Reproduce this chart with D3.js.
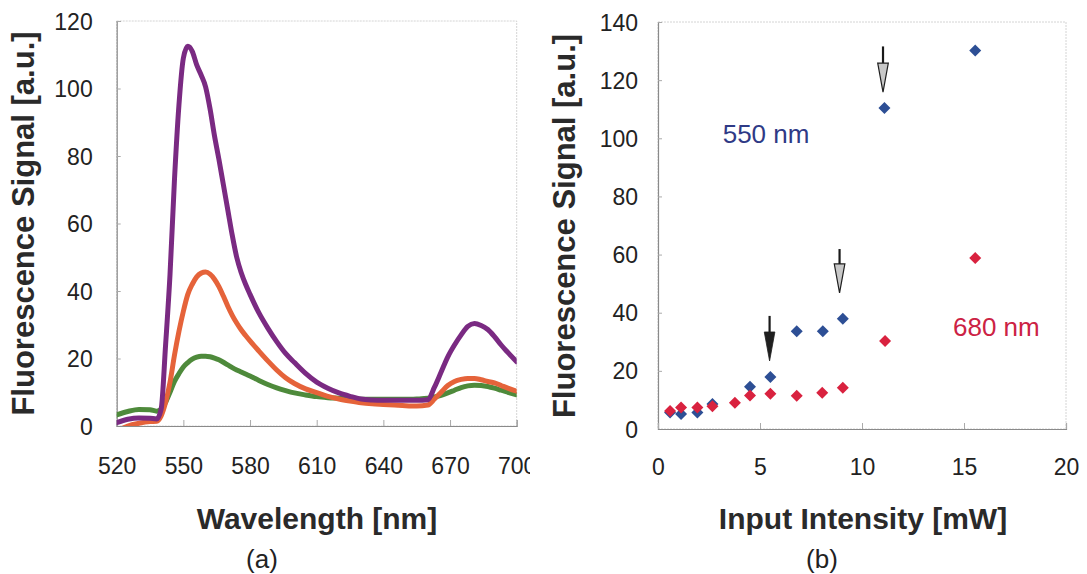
<!DOCTYPE html>
<html><head><meta charset="utf-8">
<script src="https://cdn.jsdelivr.net/npm/d3@7"></script>
<style>
html,body{margin:0;padding:0;background:#fff;}
svg{display:block;}
text{font-family:"Liberation Sans", Arial, sans-serif;}
</style></head>
<body>
<svg id="chart" width="1087" height="574"></svg>
<script>
// ---------- DATA ----------
const wavelengths = [520,525,530,535,538,540,542,544,546,548,550,552,554,556,558,560,562,564,566,568,570,572,574,576,578,580,584,588,592,596,600,605,610,615,620,625,630,635,640,645,650,655,660,663,666,669,672,675,678,681,684,687,690,693,696,700];
const purpleSignal = [1.0,2.0,2.4,2.3,2.1,5,24,45,73,95,109,112.5,111,107,104,100.5,94,86,79,71.5,64,56.5,50,45.5,42,39,33.5,29,25,21.5,18.8,15.6,13,11.2,9.8,8.8,8.0,7.7,7.6,7.6,7.6,7.6,7.8,11.5,16,20.5,24,27,29.5,30.4,29.8,28.6,26.5,24,21.8,19];
const orangeSignal = [-1.5,0,0.8,1.3,1.4,3,7,13,21,28,34,39,42,44.2,45.3,45.6,45,43.5,41.3,38.5,35.5,32.8,30.5,28.5,26.8,25.2,22.2,19.3,16.6,14.3,12.6,11,9.9,8.8,8.0,7.4,6.9,6.6,6.4,6.2,6.0,5.9,6.2,8.0,10,12,13.2,13.8,14.1,14.1,13.7,13.2,12.8,12,11.2,10.3];
const greenSignal = [3.3,4.3,4.9,4.8,4.4,5.0,7,10,13.2,15.5,17.5,18.8,19.8,20.4,20.7,20.7,20.5,20.1,19.6,18.9,18.1,17.3,16.6,16.0,15.4,14.8,13.5,12.3,11.3,10.5,9.8,9.2,8.7,8.4,8.2,8.0,7.9,7.9,7.9,7.9,7.9,8.0,8.2,8.6,9.1,9.8,10.6,11.4,11.9,12.1,12.0,11.7,11.2,10.6,10.0,9.2];

const wlTicks = [520,550,580,610,640,670,700];
const sigTicksA = [0,20,40,60,80,100,120];

const powerBlue = [0.59,1.13,1.93,2.67,4.51,5.51,6.80,8.08,9.06,11.1,15.55];
const signalBlue = [5.7,5.2,5.7,8.6,14.5,17.9,33.6,33.6,37.9,110.4,130.2];
const powerRed = [0.59,1.13,1.93,2.67,3.77,4.51,5.51,6.80,8.05,9.06,11.13,15.55];
const signalRed = [6.2,7.4,7.4,7.8,9.0,11.5,12.1,11.4,12.5,14.2,30.3,58.8];

const powerTicks = [0,5,10,15,20];
const sigTicksB = [0,20,40,60,80,100,120,140];

// arrows: x position, top of shaft, tip (data units)
const arrowX = [5.47, 8.9, 11.03];
const arrowTop = [38.9, 61.9, 131.6];
const arrowTip = [23.4, 46.8, 115.9];
const arrowFilled = [true, false, false];

// ---------- DRAW ----------
const svg = d3.select("#chart");
const FONT = "Liberation Sans, Arial, sans-serif";

// ===== Panel (a) =====
const xA = d3.scaleLinear().domain([520,700]).range([116.7,516.7]);
const yA = d3.scaleLinear().domain([0,120]).range([426,21]);

svg.append("defs").append("clipPath").attr("id","clipA")
  .append("rect").attr("x",xA(520)).attr("y",yA(120)).attr("width",xA(700)-xA(520)).attr("height",yA(0)-yA(120));
svg.select("defs").append("clipPath").attr("id","clipLeftPanel")
  .append("rect").attr("x",0).attr("y",0).attr("width",530).attr("height",574);

const gA = svg.append("g").attr("clip-path","url(#clipLeftPanel)");

// frame
gA.append("rect").attr("x",xA(520)).attr("y",yA(120)).attr("width",xA(700)-xA(520)).attr("height",yA(0)-yA(120))
  .attr("fill","none").attr("stroke","#d4d4d4").attr("stroke-width",1).attr("stroke-dasharray","2,1");

const axLA = gA.append("g").attr("transform",`translate(${xA(520)},0)`)
  .call(d3.axisLeft(yA).tickValues(sigTicksA).tickSize(-4).tickPadding(24));
const axBA = gA.append("g").attr("transform",`translate(0,${yA(0)})`)
  .call(d3.axisBottom(xA).tickValues(wlTicks).tickSize(-6).tickPadding(32));
[axLA, axBA].forEach(ax=>{
  ax.select(".domain").attr("stroke","#8a8a8a").attr("stroke-width",1.2);
  ax.selectAll(".tick line").attr("stroke","#aaa");
  ax.selectAll(".tick text").attr("font-family",FONT).attr("font-size",23).attr("fill","#222");
});
axLA.selectAll(".tick text").attr("dy","0.35em");

const lineA = (vals)=> d3.line().curve(d3.curveMonotoneX)
  .x((d,i)=>xA(wavelengths[i])).y(d=>yA(d))(vals);
const curves = gA.append("g").attr("clip-path","url(#clipA)");
[[greenSignal,"#4e8a3b"],[orangeSignal,"#e5633a"],[purpleSignal,"#7a2a82"]].forEach(([vals,col])=>{
  curves.append("path").attr("d",lineA(vals)).attr("fill","none").attr("stroke",col)
    .attr("stroke-width",5).attr("stroke-linejoin","round").attr("stroke-linecap","round");
});

gA.append("text").attr("transform","translate(34,223.5) rotate(-90)").attr("text-anchor","middle")
  .attr("font-size",31).attr("font-weight","bold").attr("fill","#2a2a2a").text("Fluorescence Signal [a.u.]");
gA.append("text").attr("x",317).attr("y",528.5).attr("text-anchor","middle")
  .attr("font-size",30).attr("font-weight","bold").attr("fill","#2a2a2a").text("Wavelength [nm]");
gA.append("text").attr("x",262).attr("y",568).attr("text-anchor","middle")
  .attr("font-size",26).attr("fill","#222").text("(a)");

// ===== Panel (b) =====
const xB = d3.scaleLinear().domain([0,20]).range([658,1066]);
const yB = d3.scaleLinear().domain([0,140]).range([429,22]);
const gB = svg.append("g");

gB.append("rect").attr("x",xB(0)).attr("y",yB(140)).attr("width",xB(20)-xB(0)).attr("height",yB(0)-yB(140))
  .attr("fill","none").attr("stroke","#d4d4d4").attr("stroke-width",1).attr("stroke-dasharray","2,1");

const axLB = gB.append("g").attr("transform",`translate(${xB(0)},0)`)
  .call(d3.axisLeft(yB).tickValues(sigTicksB).tickSize(-4).tickPadding(20));
const axBB = gB.append("g").attr("transform",`translate(0,${yB(0)})`)
  .call(d3.axisBottom(xB).tickValues(powerTicks).tickSize(-6).tickPadding(30));
[axLB, axBB].forEach(ax=>{
  ax.select(".domain").attr("stroke","#8a8a8a").attr("stroke-width",1.2);
  ax.selectAll(".tick line").attr("stroke","#aaa");
  ax.selectAll(".tick text").attr("font-family",FONT).attr("font-size",23).attr("fill","#222");
});
axLB.selectAll(".tick text").attr("dy","0.35em");

const diamond = (r)=>`M0,${-r}L${r},0L0,${r}L${-r},0Z`;
gB.append("g").selectAll("path").data(powerBlue.map((p,i)=>[p,signalBlue[i]])).join("path")
  .attr("d",diamond(6)).attr("transform",d=>`translate(${xB(d[0])},${yB(d[1])})`)
  .attr("fill","#2d4f95");
gB.append("g").selectAll("path").data(powerRed.map((p,i)=>[p,signalRed[i]])).join("path")
  .attr("d",diamond(6)).attr("transform",d=>`translate(${xB(d[0])},${yB(d[1])})`)
  .attr("fill","#d9223f");

// arrows
const arrows = gB.append("g");
arrowX.forEach((ax,i)=>{
  const x = xB(ax), yT = yB(arrowTop[i]), yTip = yB(arrowTip[i]);
  const headLen = 29, hw = 5.3;
  const yHead = yTip - headLen;
  arrows.append("line").attr("x1",x).attr("x2",x).attr("y1",yT).attr("y2",arrowFilled[i]?yHead+2:yHead+8)
    .attr("stroke","#1a1a1a").attr("stroke-width",2.2);
  arrows.append("path").attr("d",`M${x-hw},${yHead}L${x+hw},${yHead}L${x},${yTip}Z`)
    .attr("fill",arrowFilled[i]?"#1f1f1f":"#c8c8c8").attr("stroke","#1f1f1f")
    .attr("stroke-width",arrowFilled[i]?0.8:1.2).attr("stroke-linejoin","miter");
});

gB.append("text").attr("x",722.7).attr("y",143.3).attr("font-size",26).attr("fill","#2f3a86").text("550 nm");
gB.append("text").attr("x",953).attr("y",335.5).attr("font-size",26).attr("fill","#cc2244").text("680 nm");

gB.append("text").attr("transform","translate(575,226) rotate(-90)").attr("text-anchor","middle")
  .attr("font-size",31).attr("font-weight","bold").attr("fill","#2a2a2a").text("Fluorescence Signal [a.u.]");
gB.append("text").attr("x",863).attr("y",529).attr("text-anchor","middle")
  .attr("font-size",30).attr("font-weight","bold").attr("fill","#2a2a2a").text("Input Intensity [mW]");
gB.append("text").attr("x",822).attr("y",568).attr("text-anchor","middle")
  .attr("font-size",26).attr("fill","#222").text("(b)");
</script>
</body></html>
